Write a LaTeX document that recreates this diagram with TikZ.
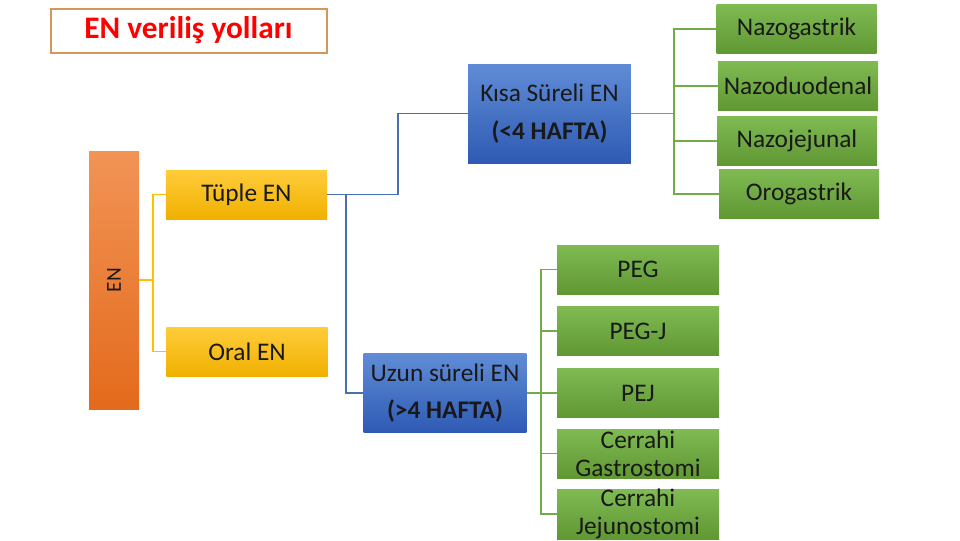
\documentclass[tikz,border=0pt]{standalone}
\usepackage{fontspec}
\setmainfont{Carlito}
\usepackage{graphicx}

\definecolor{grnT}{RGB}{127,186,82}
\definecolor{grnB}{RGB}{96,152,52}
\definecolor{yelT}{RGB}{255,204,58}
\definecolor{yelB}{RGB}{240,176,0}
\definecolor{bluT}{RGB}{96,140,214}
\definecolor{bluB}{RGB}{46,90,180}
\definecolor{orT}{RGB}{241,148,86}
\definecolor{orB}{RGB}{228,106,28}
\definecolor{titleline}{RGB}{214,150,90}
\definecolor{yline}{RGB}{255,192,0}
\definecolor{bline}{RGB}{72,112,176}
\definecolor{gline}{RGB}{112,173,71}

\begin{document}
\begin{tikzpicture}[x=0.75pt,y=-0.75pt,
        box/.style={inner sep=0pt,align=center,text=black!90,font=\fontsize{19}{23}\selectfont},
        gbox/.style={box,top color=grnT,bottom color=grnB,minimum width=120pt,minimum height=36.75pt},
        ybox/.style={box,top color=yelT,bottom color=yelB,minimum width=121pt,minimum height=36.75pt},
        bbox/.style={box,top color=bluT,bottom color=bluB,minimum width=122pt},
        conn/.style={line width=1.4pt}]
        \useasboundingbox (0,0) rectangle (960,540);

        % Title
        \node[draw=titleline,line width=1.5pt,minimum width=207pt,minimum height=33pt,
              text=red,font=\fontsize{23.5}{26}\selectfont\bfseries] (title) at (188.5,30.5) {EN veriliş yolları};

        % EN bar and first level
        \node[box,top color=orT,bottom color=orB,minimum width=37.5pt,minimum height=193.5pt,
              font=\fontsize{16}{18}\selectfont] (en) at (114,280) {\rotatebox{90}{EN}};
        \node[ybox] (tuple) at (246.5,194.5) {Tüple EN};
        \node[ybox] (oral) at (247,351.5) {Oral EN};

        % Short and long term
        \node[bbox,minimum height=74.25pt,font=\fontsize{19}{29}\selectfont] (kisa) at (549.5,113.5)
              {Kısa Süreli EN\\\textbf{(<4 HAFTA)}};
        \node[bbox,minimum height=59.25pt,font=\fontsize{19}{27.5}\selectfont] (uzun) at (445,393)
              {Uzun süreli EN\\\textbf{(>4 HAFTA)}};

        % Short term routes
        \node[gbox] (ng) at (796.5,29) {Nazogastrik};
        \node[gbox] (nd) at (798,86) {Nazoduodenal};
        \node[gbox] (nj) at (797,141) {Nazojejunal};
        \node[gbox] (og) at (799,194) {Orogastrik};

        % Long term routes
        \node[gbox,minimum width=121.5pt] (peg) at (638,269.5) {PEG};
        \node[gbox,minimum width=121.5pt] (pegj) at (638,331) {PEG-J};
        \node[gbox,minimum width=121.5pt] (pej) at (638,393) {PEJ};
        \node[gbox,minimum width=121.5pt,font=\fontsize{19}{21}\selectfont] (cg) at (638,453.5) {Cerrahi\\Gastrostomi};
        \node[gbox,minimum width=121.5pt,minimum height=37.5pt,font=\fontsize{19}{21}\selectfont] (cj) at (638,514) {Cerrahi\\Jejunostomi};

        % Connectors
        \coordinate (yj) at (153,280);
        \draw[conn,yline] (en.east) -- (yj) |- (tuple.west);
        \draw[conn,yline] (yj) |- (oral.west);

        \coordinate (bj) at (346,194.5);
        \coordinate (bk) at (398,194.5);
        \draw[conn,bline] (tuple.east) -- (bj) |- (uzun.west);
        \draw[conn,bline] (bj) -- (bk) |- (kisa.west);

        \coordinate (gk) at (674,113.5);
        \draw[conn,gline] (kisa.east) -- (gk);
        \foreach \n in {ng,nd,nj,og}
            \draw[conn,gline] (gk) |- (\n.west);

        \coordinate (gu) at (541,393);
        \draw[conn,gline] (uzun.east) -- (gu);
        \foreach \n in {peg,pegj,pej,cg,cj}
            \draw[conn,gline] (gu) |- (\n.west);
    \end{tikzpicture}
\end{document}
